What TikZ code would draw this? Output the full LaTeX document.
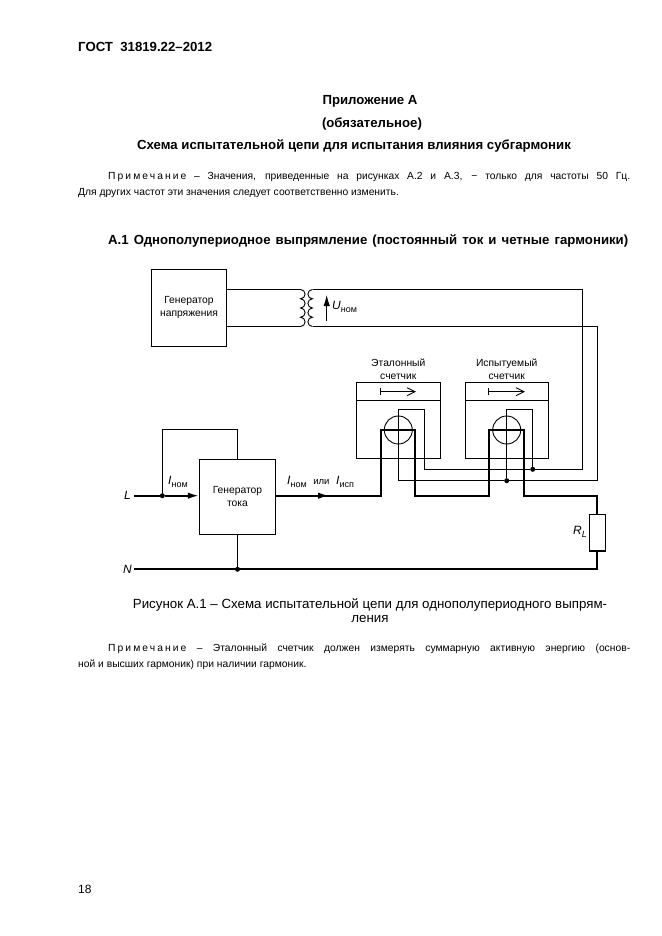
\documentclass[tikz,border=0pt]{standalone}
\usepackage{fontspec}
\setmainfont{Liberation Sans}
\usetikzlibrary{arrows.meta,positioning,calc}
\tikzset{
    wirethin/.style={line width=0.9pt},
    wirethick/.style={line width=1.8pt},
    box/.style={draw, line width=0.9pt, inner sep=0pt, align=center, font=\fontsize{10.3}{13}\selectfont},
    junction/.style={circle, fill=black, inner sep=0pt, minimum size=5pt},
    txt/.style={inner sep=0pt, font=\fontsize{10.3}{12}\selectfont},
    head/.style={inner sep=0pt, font=\fontsize{13.2}{15}\bfseries\selectfont},
    lab/.style={inner sep=0pt, font=\fontsize{10.3}{13}\selectfont, align=center},
    sym/.style={inner sep=0pt, font=\fontsize{12}{14}\itshape\selectfont},
    flow/.style={-{Latex[length=11pt,width=6.5pt]}},
    dirarrow/.style={wirethin,{Bar[width=7pt]}-{Straight Barb[length=8pt,width=8pt]}}
}
\newcommand{\subl}[1]{\raisebox{-2.5pt}{\fontsize{9}{10}\upshape\selectfont #1}}
\newcommand{\spread}[2]{\makebox[#1][s]{#2}}
\newcommand{\wide}[1]{{\addfontfeature{LetterSpace=20}#1}}
\begin{document}
\begin{tikzpicture}[x=1pt,y=-1pt]
    \useasboundingbox (0,0) rectangle (661,936);

    % page text
    \node[head,anchor=west] (gost) at (78,47) {ГОСТ\ \ 31819.22–2012};
    \node[head] (app) at (370,101) {Приложение А};
    \node[head] (oblig) at (372,124) {(обязательное)};
    \node[head] (title) at (354,146) {Схема испытательной цепи для испытания влияния субгармоник};
    \node[txt,anchor=west] (notea) at (108,177) {\spread{522pt}{\wide{Примечание} – Значения, приведенные на рисунках А.2 и А.3, − только для частоты 50 Гц.}};
    \node[txt,anchor=west] (noteb) at (78,193) {Для других частот эти значения следует соответственно изменить.};
    \node[head,anchor=west] (sect) at (108,241) {\spread{520pt}{А.1 Однополупериодное выпрямление (постоянный ток и четные гармоники)}};

    % boxes
    \node[box,minimum width=75pt,minimum height=77.5pt] (gennapr) at (189,308) {Генератор\\напряжения};
    \node[box,minimum width=76.5pt,minimum height=74.5pt] (gentok) at (237.5,496.7) {Генератор\\тока};
    \node[box,minimum width=83.3pt,minimum height=75.7pt] (etalon) at (398.3,420.2) {};
    \node[box,minimum width=83.3pt,minimum height=75.7pt] (ispyt) at (506.7,420.2) {};
    \node[lab,above=2.5pt of etalon.north] (etalontxt) {Эталонный\\счетчик};
    \node[lab,above=2.5pt of ispyt.north] (ispyttxt) {Испытуемый\\счетчик};
    \draw[wirethin] ($(etalon.north west)+(0,18.4)$) -- ($(etalon.north east)+(0,18.4)$);
    \draw[wirethin] ($(ispyt.north west)+(0,18.4)$) -- ($(ispyt.north east)+(0,18.4)$);
    \draw[dirarrow] (380,391.7) -- (416,391.7);
    \draw[dirarrow] (488,391.7) -- (525,391.7);
    \node[draw,circle,wirethin,minimum size=28pt,inner sep=0pt] (coila) at (398.3,430) {};
    \node[draw,circle,wirethin,minimum size=28pt,inner sep=0pt] (coilb) at (506.7,430) {};
    \node[draw,line width=1.6pt,fill=white,minimum width=16pt,minimum height=36.4pt,inner sep=0pt] (load) at (597.3,532.5) {};

    % points on the wires
    \coordinate (prima) at (gennapr.east |- 0,289.5);
    \coordinate (primb) at (gennapr.east |- 0,326.5);
    \coordinate (pa) at (300.5,289.5);
    \coordinate (pb) at (300.5,326.5);
    \coordinate (sa) at (312.5,289.5);
    \coordinate (sb) at (312.5,326.5);
    \coordinate (L) at (134,495.7);
    \coordinate (N) at (134,569.3);
    \node[junction] (jL) at (162.3,495.7) {};
    \node[junction] (jN) at (gentok.south |- N) {};
    \node[junction] (ju) at (532.7,469.3) {};
    \node[junction] (ji) at (506.7,480.7) {};

    % transformer
    \draw[wirethin] (prima) -- (pa);
    \draw[wirethin] (primb) -- (pb);
    \draw[wirethin] (sa) -- (582,289.5) -- (582,469.3) -- (ju) -- (424.3,469.3) -- (424.3,409) -- (398.3,409) -- (398.3,480.7) -- (ji) -- (597.3,480.7) -- (597.3,326.5) -- (sb);
    \draw[wirethin] (ju) -- (532.7,409) -- (506.7,409) -- (ji);
    \draw[wirethin] (pa) \foreach \i in {1,...,4} {arc[start angle=90,end angle=-90,radius=4.625pt]};
    \draw[wirethin] (sa) \foreach \i in {1,...,4} {arc[start angle=90,end angle=270,radius=4.625pt]};
    \node[sym,anchor=west] (unom) at (332,307) {U\subl{ном}};
    \draw[wirethin,flow] (326.7,320.7) -- (326.7,295);

    % current path
    \draw[wirethick] (L) -- (jL);
    \draw[wirethick,flow] (jL) -- (gentok.west |- L);
    \draw[wirethin] (jL) -- (162.3,429.3) -- (237.5,429.3) -- (gentok.north);
    \draw[wirethick] (gentok.east |- L) -- (381,495.7) -- (381,430) -- (415.3,430) -- (415.3,495.7) -- (489.3,495.7) -- (489.3,430) -- (523.7,430) -- (523.7,495.7) -- (597.3,495.7) -- (load.north);
    \draw[wirethick,flow] (gentok.east |- L) -- (329,495.7);
    \draw[wirethick] (load.south) -- (597.3,569.3) -- (N);
    \draw[wirethin] (gentok.south) -- (jN);

    % wire labels
    \node[sym,anchor=east] (Llab) at (131,495.7) {L};
    \node[sym,anchor=east] (Nlab) at (132,569.3) {N};
    \node[sym,anchor=west] (inom) at (168,482) {I\subl{ном}};
    \node[sym,anchor=west] (iout) at (287,482) {I\subl{ном}\ \ {\upshape\fontsize{9.5}{10}\selectfont или}\ \ I\subl{исп}};
    \node[sym,anchor=east] (rlab) at (587,532) {R\subl{\itshape L}};

    % caption
    \node[inner sep=0pt,font=\fontsize{13.3}{14}\selectfont,align=center] (capt) at (370,611) {Рисунок А.1 – Схема испытательной цепи для однополупериодного выпрям-\\ления};
    \node[txt,anchor=west] (notec) at (108,649) {\spread{522pt}{\wide{Примечание} – Эталонный счетчик должен измерять суммарную активную энергию (основ-}};
    \node[txt,anchor=west] (noted) at (78,665) {ной и высших гармоник) при наличии гармоник.};
    \node[inner sep=0pt,font=\fontsize{12}{14}\selectfont,anchor=west] (pagenum) at (78,889) {18};
\end{tikzpicture}
\end{document}
